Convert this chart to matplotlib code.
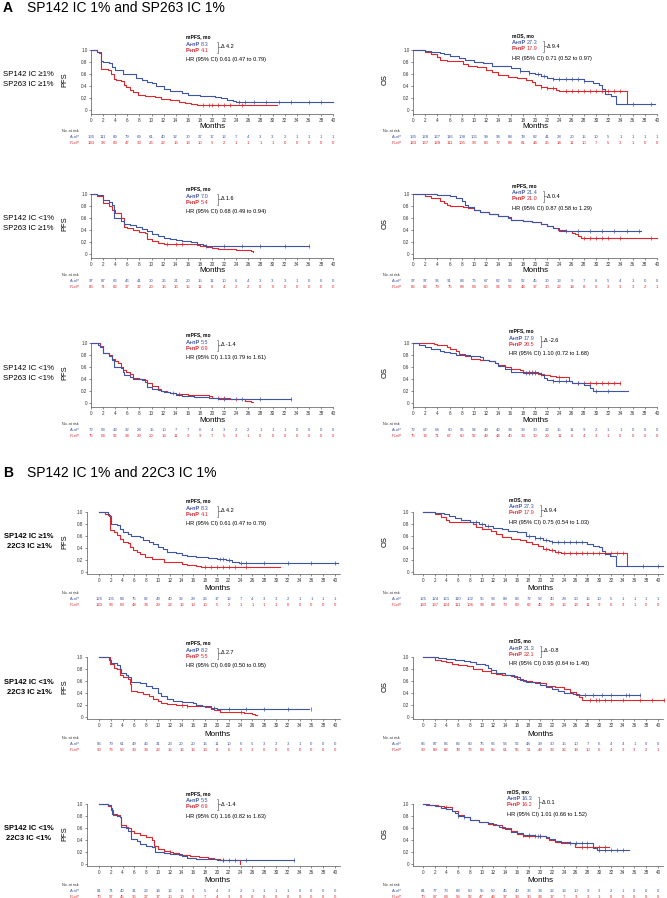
import numpy as np
import matplotlib.pyplot as plt
import matplotlib.transforms as mtransforms
from matplotlib.lines import Line2D

plt.rcParams['font.family'] = ['Liberation Sans', 'DejaVu Sans']

W, H = 667, 898
BLUE = '#3d55a5'
RED = '#e0252c'
months = np.arange(0, 41, 2)

# ---------------- data ----------------
# row 1 : SP142 >=1% / SP263 >=1%
r1_pfs_a_t = [0, 1.0, 1.65, 2.0, 3.0, 3.5, 4.0, 5.3, 7.4, 8.5, 9.2, 10.0, 10.8, 12.0, 13.0, 15.0, 16.0, 18.0, 19.0, 20.5, 21.5, 22.5, 23.5, 24.0, 40.0]
r1_pfs_a_s = [1.0, 0.97, 0.82, 0.80, 0.78, 0.72, 0.67, 0.60, 0.53, 0.50, 0.47, 0.45, 0.40, 0.35, 0.31, 0.28, 0.25, 0.24, 0.23, 0.21, 0.20, 0.17, 0.15, 0.14, 0.14]
r1_pfs_b_t = [0, 1.0, 1.3, 1.7, 2.8, 3.3, 3.8, 4.2, 5.0, 5.5, 5.8, 6.5, 7.0, 7.8, 9.0, 10.5, 11.5, 13.0, 14.5, 15.5, 16.5, 17.5, 18.0, 30.8]
r1_pfs_b_s = [1.0, 0.97, 0.95, 0.69, 0.66, 0.60, 0.52, 0.50, 0.48, 0.42, 0.38, 0.33, 0.30, 0.25, 0.23, 0.21, 0.18, 0.16, 0.14, 0.12, 0.10, 0.09, 0.08, 0.08]
r1_pfs_a_c = [24.5, 25.5, 27, 29, 31, 33, 36, 38]
r1_pfs_b_c = [18.5, 19.5, 20, 21, 22, 23, 25]
r1_os_a_t = [0, 2, 3, 4.5, 5, 6, 7.5, 8.5, 10, 11.5, 13, 15, 16, 17.5, 19, 20, 21, 22, 23, 28, 29.5, 30.5, 31, 31.5, 32.5, 33.2, 39.7]
r1_os_a_s = [1.0, 0.98, 0.96, 0.95, 0.93, 0.90, 0.87, 0.83, 0.80, 0.78, 0.74, 0.73, 0.70, 0.65, 0.62, 0.60, 0.57, 0.53, 0.51, 0.48, 0.45, 0.42, 0.35, 0.27, 0.23, 0.10, 0.10]
r1_os_b_t = [0, 2, 3, 4, 4.5, 5.5, 8.2, 9, 10.5, 12, 13, 14, 15.5, 17, 18.5, 19.5, 20, 21, 22, 23.5, 24, 35]
r1_os_b_s = [1.0, 0.97, 0.93, 0.88, 0.84, 0.82, 0.77, 0.74, 0.71, 0.67, 0.63, 0.58, 0.55, 0.53, 0.50, 0.47, 0.42, 0.38, 0.36, 0.33, 0.32, 0.10]
r1_os_a_c = [17.5, 19, 20.5, 21.5, 23, 24, 25, 26, 27, 28, 36, 39]
r1_os_b_c = [21, 22, 23, 25, 26, 27, 28, 29, 30, 31, 32, 33, 34]

# row 2 : SP142 <1% / SP263 >=1%
r2_pfs_a_t = [0, 1, 2, 3, 3.5, 3.8, 5, 5.5, 6.5, 7.5, 8.5, 9.2, 10, 11, 12, 13, 14, 15, 16.5, 17.5, 18.5, 19, 36]
r2_pfs_a_s = [1.0, 0.98, 0.90, 0.87, 0.82, 0.60, 0.55, 0.50, 0.48, 0.45, 0.42, 0.38, 0.33, 0.30, 0.27, 0.25, 0.23, 0.22, 0.20, 0.17, 0.15, 0.14, 0.14]
r2_pfs_b_t = [0, 1, 2, 3, 3.5, 4, 5, 5.5, 6, 7, 8, 9, 9.3, 10, 11, 12, 16.5, 17.5, 18, 19, 20, 21, 22, 24, 26.5, 26.8]
r2_pfs_b_s = [1.0, 0.97, 0.85, 0.80, 0.73, 0.68, 0.60, 0.45, 0.43, 0.40, 0.37, 0.35, 0.25, 0.22, 0.18, 0.17, 0.16, 0.15, 0.14, 0.12, 0.10, 0.09, 0.08, 0.06, 0.05, 0.03]
r2_pfs_a_c = [19, 22, 25, 28, 32, 36]
r2_pfs_b_c = [12.5, 14, 15]
r2_os_a_t = [0, 4, 6, 7, 8, 8.5, 9, 10, 11, 12.5, 14, 15.5, 16, 18, 19.5, 21, 22, 23, 24, 37.3]
r2_os_a_s = [1.0, 0.98, 0.97, 0.93, 0.88, 0.82, 0.79, 0.74, 0.70, 0.66, 0.63, 0.60, 0.57, 0.55, 0.53, 0.50, 0.47, 0.44, 0.38, 0.38]
r2_os_b_t = [0, 2, 3, 4.5, 5, 5.5, 6, 8.2, 9, 10, 11, 12.5, 14, 15.5, 16, 18, 19.5, 21, 22, 23, 23.8, 25, 26, 26.5, 27, 27.5, 40]
r2_os_b_s = [1.0, 0.97, 0.93, 0.88, 0.85, 0.82, 0.80, 0.78, 0.76, 0.73, 0.70, 0.66, 0.63, 0.61, 0.57, 0.55, 0.53, 0.50, 0.47, 0.44, 0.40, 0.38, 0.35, 0.33, 0.30, 0.27, 0.27]
r2_os_a_c = [25, 27, 29, 31, 33, 35, 37]
r2_os_b_c = [28, 29, 30, 31, 32, 34, 39]

# row 3 : SP142 <1% / SP263 <1%
r3_pfs_a_t = [0, 1.2, 1.5, 2, 3, 3.5, 3.8, 5, 5.3, 5.5, 6.5, 7, 8.5, 9, 9.3, 10, 11, 11.5, 12, 13, 14, 15, 17, 19.5, 21, 33]
r3_pfs_a_s = [1.0, 0.97, 0.93, 0.83, 0.78, 0.72, 0.60, 0.58, 0.52, 0.47, 0.44, 0.40, 0.38, 0.35, 0.26, 0.24, 0.22, 0.20, 0.18, 0.16, 0.13, 0.12, 0.10, 0.08, 0.07, 0.07]
r3_pfs_b_t = [0, 1.5, 2, 3, 3.5, 4, 4.5, 5, 5.3, 5.8, 6.5, 7, 8, 9, 9.3, 10, 11, 11.5, 12.5, 13, 14, 16, 19.5, 20, 23, 25, 25.5, 26.5, 26.8]
r3_pfs_b_s = [1.0, 0.95, 0.83, 0.80, 0.73, 0.70, 0.66, 0.60, 0.55, 0.52, 0.48, 0.42, 0.40, 0.38, 0.33, 0.28, 0.24, 0.20, 0.18, 0.16, 0.15, 0.14, 0.12, 0.08, 0.07, 0.06, 0.03, 0.02, 0.02]
r3_pfs_a_c = [22, 25, 28, 33]
r3_pfs_b_c = [13.5, 14.5, 21, 22, 24]
r3_os_a_t = [0, 1, 2, 3, 4.5, 5, 6, 7, 9.3, 11, 11.5, 12.5, 13.5, 14, 15, 16, 18, 21, 21.5, 22, 23, 26, 28, 29, 29.5, 35.2]
r3_os_a_s = [1.0, 0.97, 0.94, 0.90, 0.87, 0.85, 0.84, 0.80, 0.78, 0.76, 0.72, 0.70, 0.66, 0.62, 0.56, 0.52, 0.50, 0.47, 0.42, 0.38, 0.36, 0.33, 0.30, 0.25, 0.20, 0.20]
r3_os_b_t = [0, 3, 3.5, 4, 5.5, 6, 7, 7.5, 8.5, 9.5, 11, 12.5, 13.5, 14, 15, 16, 17.5, 18, 20.5, 21.5, 22.5, 23.5, 25.5, 26, 34]
r3_os_b_s = [1.0, 1.0, 0.98, 0.97, 0.94, 0.90, 0.87, 0.82, 0.78, 0.74, 0.72, 0.70, 0.66, 0.63, 0.60, 0.56, 0.55, 0.52, 0.49, 0.47, 0.45, 0.43, 0.36, 0.33, 0.33]
r3_os_a_c = [18.5, 19, 19.5, 20, 23, 24, 25, 27, 30, 32]
r3_os_b_c = [19, 19.5, 20, 21, 24, 27, 28, 29, 30, 31, 32, 33, 34]

# row 4 : SP142 >=1% / 22C3 >=1%
r4_pfs_a_t = [0, 1.5, 1.7, 2, 3, 3.5, 4, 5, 5.5, 7, 7.5, 8.5, 9.2, 10, 10.8, 11.5, 13, 14, 15, 16.5, 18.5, 20, 21.5, 22.5, 23.7, 40.5]
r4_pfs_a_s = [1.0, 0.97, 0.93, 0.80, 0.78, 0.72, 0.67, 0.64, 0.60, 0.58, 0.53, 0.50, 0.46, 0.42, 0.38, 0.34, 0.31, 0.29, 0.27, 0.25, 0.23, 0.21, 0.20, 0.17, 0.15, 0.15]
r4_pfs_b_t = [0, 1, 1.5, 1.8, 2.5, 3, 3.5, 4, 5, 5.3, 5.8, 6.5, 7, 7.8, 9, 10.5, 11, 12.5, 14, 15, 16.5, 17.3, 30.7]
r4_pfs_b_s = [1.0, 0.97, 0.95, 0.70, 0.67, 0.62, 0.55, 0.50, 0.48, 0.42, 0.36, 0.33, 0.30, 0.25, 0.22, 0.21, 0.17, 0.16, 0.14, 0.12, 0.10, 0.08, 0.08]
r4_pfs_a_c = [20.5, 21, 22, 24, 25, 28, 32, 36, 40]
r4_pfs_b_c = [18, 19, 20, 21, 22, 23, 25]
r4_os_a_t = [0, 2, 3.5, 4.5, 5.5, 6.5, 8, 9.5, 10.5, 12, 13.5, 14.5, 16, 17.5, 19, 20.5, 21.5, 22, 28, 29, 30, 30.5, 31, 31.8, 32.8, 40.8]
r4_os_a_s = [1.0, 0.98, 0.96, 0.93, 0.90, 0.86, 0.83, 0.80, 0.76, 0.74, 0.71, 0.68, 0.66, 0.60, 0.57, 0.54, 0.52, 0.50, 0.47, 0.44, 0.41, 0.35, 0.30, 0.27, 0.10, 0.10]
r4_os_b_t = [0, 2, 3, 4, 4.5, 6.5, 8.5, 9, 10, 11.5, 12.5, 13.5, 15, 16.5, 17.5, 18.5, 19.5, 20.5, 21.5, 22.5, 23.5, 34.8]
r4_os_b_s = [1.0, 0.96, 0.92, 0.87, 0.84, 0.83, 0.80, 0.75, 0.72, 0.68, 0.63, 0.58, 0.55, 0.53, 0.50, 0.46, 0.43, 0.38, 0.36, 0.34, 0.32, 0.10]
r4_os_a_c = [9, 10, 11, 18, 19, 20, 21, 22, 23, 24, 25, 26, 27, 37.5, 40]
r4_os_b_c = [21, 22, 23, 24, 25, 26, 27, 28, 29, 30, 31, 32, 33, 34]

# row 5 : SP142 <1% / 22C3 >=1%
r5_pfs_a_t = [0, 1.7, 2, 3, 3.5, 3.8, 4.5, 5, 5.5, 7, 8, 9, 10, 10.5, 11.5, 12.5, 14, 16, 16.5, 17.5, 19, 20, 35.6]
r5_pfs_a_s = [1.0, 0.95, 0.90, 0.87, 0.80, 0.73, 0.70, 0.66, 0.58, 0.56, 0.52, 0.48, 0.40, 0.35, 0.30, 0.27, 0.25, 0.24, 0.20, 0.18, 0.15, 0.14, 0.14]
r5_pfs_b_t = [0, 1.8, 2.5, 3, 3.5, 4, 5, 5.3, 5.5, 6.5, 7.5, 8.5, 9.2, 10, 10.5, 11.5, 13, 15, 16.5, 18, 19, 19.5, 20.5, 22, 24.5, 26, 26.5, 26.7]
r5_pfs_b_s = [1.0, 0.88, 0.82, 0.80, 0.70, 0.67, 0.63, 0.55, 0.44, 0.42, 0.38, 0.35, 0.30, 0.27, 0.24, 0.21, 0.20, 0.19, 0.18, 0.16, 0.14, 0.12, 0.09, 0.08, 0.06, 0.05, 0.03, 0.03]
r5_pfs_a_c = [19.5, 22, 25, 28, 32, 36]
r5_pfs_b_c = [14, 15, 24]
r5_os_a_t = [0, 2.5, 4, 5.5, 7, 8, 9, 10.5, 11, 11.5, 12.5, 14, 15.5, 16.5, 17.5, 19, 20, 21, 22, 23, 24, 25.5, 26.5, 37]
r5_os_a_s = [1.0, 0.98, 0.97, 0.95, 0.94, 0.92, 0.88, 0.86, 0.82, 0.78, 0.74, 0.70, 0.66, 0.62, 0.59, 0.57, 0.54, 0.50, 0.46, 0.43, 0.40, 0.38, 0.36, 0.36]
r5_os_b_t = [0, 2, 3, 4, 5, 6, 7.5, 8.5, 10, 11.5, 12.5, 13.5, 15, 16, 17, 18.5, 20, 21, 22.5, 24, 25, 26, 26.5, 27, 41]
r5_os_b_s = [1.0, 0.95, 0.93, 0.92, 0.88, 0.86, 0.85, 0.80, 0.76, 0.74, 0.72, 0.70, 0.68, 0.64, 0.60, 0.58, 0.56, 0.52, 0.50, 0.46, 0.41, 0.37, 0.33, 0.29, 0.29]
r5_os_a_c = [27.5, 29, 30.5, 32, 34.5, 35, 37]
r5_os_b_c = [28.5, 29.5, 30, 31, 32, 34, 37, 39, 41]

# row 6 : SP142 <1% / 22C3 <1%
r6_pfs_a_t = [0, 1.5, 2, 2.2, 3, 3.5, 3.8, 4.5, 5, 5.5, 6.5, 7, 8, 9, 9.5, 11, 12, 13, 14, 15, 16.5, 20, 33]
r6_pfs_a_s = [1.0, 0.98, 0.93, 0.83, 0.80, 0.78, 0.62, 0.60, 0.55, 0.42, 0.38, 0.33, 0.30, 0.28, 0.20, 0.19, 0.17, 0.16, 0.14, 0.10, 0.08, 0.07, 0.07]
r6_pfs_b_t = [0, 1.5, 2, 2.3, 3.5, 3.8, 4.5, 5, 5.5, 6, 7, 8, 9, 9.3, 10, 11, 12, 12.5, 13.5, 15.5, 17, 18.5, 19.5, 20.5, 23.9]
r6_pfs_b_s = [1.0, 0.97, 0.90, 0.82, 0.79, 0.65, 0.62, 0.60, 0.55, 0.52, 0.48, 0.45, 0.40, 0.30, 0.25, 0.22, 0.20, 0.18, 0.15, 0.13, 0.12, 0.10, 0.08, 0.07, 0.0]
r6_pfs_a_c = [21, 23, 25, 33]
r6_pfs_b_c = [12, 21, 22]
r6_os_a_t = [0, 0.5, 2, 3, 4, 5, 5.5, 6, 7, 8, 9.5, 11, 12, 13, 14, 15, 16, 17, 19, 21, 21.5, 22.5, 23.5, 25, 29, 29.7, 35]
r6_os_a_s = [1.0, 0.98, 0.97, 0.94, 0.92, 0.88, 0.85, 0.80, 0.78, 0.73, 0.70, 0.68, 0.65, 0.62, 0.58, 0.54, 0.52, 0.48, 0.47, 0.45, 0.42, 0.38, 0.36, 0.35, 0.27, 0.23, 0.23]
r6_os_b_t = [0, 1, 2.5, 3.5, 5, 6, 7, 8, 9.5, 11, 12.5, 13.5, 15, 16, 17, 21, 21.5, 22.5, 23.5, 25.8, 31.6]
r6_os_b_s = [1.0, 0.98, 0.96, 0.95, 0.88, 0.82, 0.78, 0.73, 0.70, 0.67, 0.65, 0.60, 0.55, 0.50, 0.47, 0.43, 0.40, 0.37, 0.35, 0.29, 0.29]
r6_os_a_c = [6, 7, 17, 18, 19.5, 20, 25, 26, 27, 28, 30, 31, 32, 33, 34]
r6_os_b_c = [4, 18, 19, 20, 27, 28, 30, 31]

# numbers at risk (A+nP, P+nP) at months 0,2,...,40
r1_pfs_risk_a = [135, 111, 89, 79, 69, 61, 40, 32, 30, 27, 17, 12, 7, 4, 3, 3, 2, 1, 1, 1, 1]
r1_pfs_risk_b = [143, 98, 69, 47, 33, 26, 22, 16, 13, 10, 5, 2, 1, 1, 1, 1, 0, 0, 0, 0, 0]
r1_os_risk_a = [135, 128, 127, 116, 108, 101, 99, 94, 88, 78, 62, 41, 28, 20, 15, 10, 5, 1, 1, 1, 1]
r1_os_risk_b = [143, 137, 128, 111, 105, 93, 83, 72, 68, 61, 44, 25, 14, 11, 10, 7, 5, 3, 1, 0, 0]
r2_pfs_risk_a = [97, 87, 66, 46, 41, 30, 25, 21, 20, 15, 11, 10, 6, 4, 3, 3, 3, 1, 0, 0, 0]
r2_pfs_risk_b = [86, 71, 62, 37, 32, 20, 16, 16, 15, 11, 6, 4, 2, 2, 0, 0, 0, 0, 0, 0, 0]
r2_os_risk_a = [97, 97, 96, 91, 84, 76, 67, 62, 58, 52, 45, 30, 13, 9, 7, 6, 5, 4, 1, 0, 0]
r2_os_risk_b = [86, 82, 79, 75, 68, 64, 60, 54, 52, 48, 37, 30, 22, 18, 8, 6, 3, 3, 3, 2, 1]
r3_pfs_risk_a = [72, 63, 43, 32, 24, 15, 10, 7, 7, 6, 4, 3, 2, 2, 1, 1, 1, 0, 0, 0, 0]
r3_pfs_risk_b = [75, 64, 52, 38, 29, 20, 13, 11, 9, 9, 7, 5, 3, 1, 0, 0, 0, 0, 0, 0, 0]
r3_os_risk_a = [72, 67, 64, 60, 56, 54, 49, 42, 38, 33, 30, 22, 15, 11, 9, 2, 1, 1, 0, 0, 0]
r3_os_risk_b = [75, 74, 71, 67, 60, 52, 49, 44, 40, 33, 30, 20, 11, 6, 4, 3, 1, 0, 0, 0, 0]
r4_pfs_risk_a = [125, 105, 84, 75, 62, 49, 40, 32, 29, 26, 17, 12, 7, 4, 3, 3, 2, 1, 1, 1, 1]
r4_pfs_risk_b = [143, 98, 69, 48, 34, 29, 22, 16, 13, 10, 5, 2, 1, 1, 1, 1, 0, 0, 0, 0, 0]
r4_os_risk_a = [125, 124, 121, 110, 102, 95, 93, 88, 83, 72, 59, 40, 28, 20, 15, 10, 5, 1, 1, 1, 1]
r4_os_risk_b = [143, 137, 124, 111, 106, 94, 84, 73, 69, 62, 45, 28, 16, 13, 11, 9, 6, 3, 1, 0, 0]
r5_pfs_risk_a = [86, 79, 61, 49, 43, 31, 23, 20, 20, 16, 11, 10, 6, 5, 3, 3, 3, 1, 0, 0, 0]
r5_pfs_risk_b = [90, 76, 59, 39, 34, 23, 16, 16, 16, 13, 8, 6, 5, 3, 0, 0, 0, 0, 0, 0, 0]
r5_os_risk_a = [86, 87, 86, 83, 80, 75, 66, 58, 52, 48, 39, 30, 15, 10, 7, 6, 4, 4, 1, 0, 0]
r5_os_risk_b = [90, 89, 82, 78, 76, 69, 65, 61, 56, 51, 43, 33, 26, 19, 10, 6, 4, 3, 3, 2, 1]
r6_pfs_risk_a = [81, 71, 40, 31, 22, 14, 12, 8, 7, 5, 4, 3, 2, 1, 1, 1, 1, 0, 0, 0, 0]
r6_pfs_risk_b = [70, 57, 45, 36, 27, 17, 10, 10, 8, 7, 4, 3, 0, 0, 0, 0, 0, 0, 0, 0, 0]
r6_os_risk_a = [81, 77, 73, 68, 60, 55, 50, 45, 40, 36, 34, 22, 13, 10, 9, 3, 2, 1, 0, 0, 0]
r6_os_risk_b = [70, 67, 64, 59, 52, 47, 44, 37, 33, 30, 24, 17, 7, 3, 2, 1, 0, 0, 0, 0, 0]

# medians / HR text per panel: (header, A value, P value, delta, HR)
r1_pfs_note = ('mPFS, mo', '8.3', '4.1', '4.2', '0.61 (0.47 to 0.79)')
r1_os_note = ('mOS, mo', '27.3', '17.9', '9.4', '0.71 (0.52 to 0.97)')
r2_pfs_note = ('mPFS, mo', '7.0', '5.4', '1.6', '0.68 (0.49 to 0.94)')
r2_os_note = ('mPFS, mo', '21.4', '21.0', '0.4', '0.87 (0.58 to 1.29)')
r3_pfs_note = ('mPFS, mo', '5.5', '6.9', '-1.4', '1.13 (0.79 to 1.61)')
r3_os_note = ('mPFS, mo', '17.9', '20.5', '-2.6', '1.10 (0.72 to 1.68)')
r4_pfs_note = ('mPFS, mo', '8.3', '4.1', '4.2', '0.61 (0.47 to 0.79)')
r4_os_note = ('mOS, mo', '27.3', '17.9', '9.4', '0.75 (0.54 to 1.03)')
r5_pfs_note = ('mPFS, mo', '8.2', '5.5', '2.7', '0.69 (0.50 to 0.95)')
r5_os_note = ('mOS, mo', '21.3', '22.1', '-0.8', '0.95 (0.64 to 1.40)')
r6_pfs_note = ('mPFS, mo', '5.5', '6.9', '-1.4', '1.16 (0.82 to 1.63)')
r6_os_note = ('mOS, mo', '16.3', '16.2', '0.1', '1.01 (0.66 to 1.52)')

row_labels = [('SP142 IC \u22651%', 'SP263 IC \u22651%'),
              ('SP142 IC <1%', 'SP263 IC \u22651%'),
              ('SP142 IC <1%', 'SP263 IC <1%'),
              ('SP142 IC \u22651%', '22C3 IC \u22651%'),
              ('SP142 IC <1%', '22C3 IC \u22651%'),
              ('SP142 IC <1%', '22C3 IC <1%')]

# ---------------- layout (pixels) ----------------
row_top = [50, 194, 343, 512, 657, 804]
note_pos = [((186, 44), (512, 43)), ((186, 196), (512, 193)), ((186, 342), (509, 338)),
            ((186, 508), (509, 507)), ((186, 650), (509, 648)), ((186, 801), (507, 799))]

fig = plt.figure(figsize=(W / 100, H / 100), dpi=100)


def fx(x):
    return x / W


def fy(y):
    return 1 - y / H


def step_at(t, s, c):
    idx = np.searchsorted(np.asarray(t), np.asarray(c), side='right') - 1
    return np.asarray(s)[idx]


def panel(row, col, curves, risk_a, risk_b, note, ylab):
    secB = row >= 3
    if col == 0:
        yax, xmin, ppm = (87, -2.03, 5.9) if secB else (91, 0.0, 6.05)
    else:
        yax, xmin, ppm = (413, -1.7, 5.875) if secB else (413, 0.0, 6.1)
    xmax = 40.8 if secB else 40.0
    ymin = -0.04 if secB else -0.07
    top = row_top[row]
    y0 = top + 60
    bottom = top + 60 * (1 - ymin)
    right = yax + (xmax - xmin) * ppm
    ax = fig.add_axes([fx(yax), fy(bottom), (right - yax) / W, (bottom - top) / H])
    ax.set_xlim(xmin, xmax)
    ax.set_ylim(ymin, 1.0)
    for t, s, c, col_ in curves:
        ax.step(t, s, where='post', color=col_, lw=0.8, clip_on=False)
        ax.plot(c, step_at(t, s, c), '|', color=col_, ms=2.2, mew=0.5, clip_on=False)
    for sp in ['top', 'right']:
        ax.spines[sp].set_visible(False)
    for sp in ['left', 'bottom']:
        ax.spines[sp].set_linewidth(0.5)
        ax.spines[sp].set_color('#555555')
    ax.set_xticks(months)
    ax.set_yticks([0, 0.2, 0.4, 0.6, 0.8, 1.0])
    ax.set_yticklabels(['0', '0.2', '0.4', '0.6', '0.8', '1.0'])
    ax.tick_params(labelsize=3.3, length=1.6, width=0.4, pad=1.2 if secB else 0.8,
                   colors='#333333')
    ax.patch.set_alpha(0)

    # y label
    lx = (65 if col == 0 else 385)
    fig.text(fx(lx), fy((top + y0) / 2), ylab, rotation=90, ha='center', va='center',
             fontsize=5.4)
    # x label
    fig.text(fx(yax + (20 - xmin) * ppm), fy(y0 + 17), 'Months', ha='center', va='center',
             fontsize=5.8)
    # number at risk
    tr = mtransforms.blended_transform_factory(ax.transData, fig.transFigure)
    nx = 62 if col == 0 else 383
    lab_r = 80 if col == 0 else 402
    fig.text(fx(nx), fy(y0 + 21), 'No. at risk', fontsize=2.7, va='center', color='#333333')
    fig.text(fx(lab_r), fy(y0 + 27), 'A+nP', fontsize=2.9, ha='right', va='center', color=BLUE)
    fig.text(fx(lab_r), fy(y0 + 33), 'P+nP', fontsize=2.9, ha='right', va='center', color=RED)
    for m, a, b in zip(months, risk_a, risk_b):
        ax.text(m, fy(y0 + 27), str(a), transform=tr, fontsize=3.1, ha='center', va='center',
                color=BLUE)
        ax.text(m, fy(y0 + 33), str(b), transform=tr, fontsize=3.1, ha='center', va='center',
                color=RED)

    # median / HR box
    px, py = note_pos[row][col]
    head, va_, vb_, d, hr = note
    fig.text(fx(px), fy(py - 7), head, fontsize=3.6, weight='bold', va='center')
    fig.text(fx(px), fy(py), 'A+nP', fontsize=4.0, weight='bold', va='center', color=BLUE)
    fig.text(fx(px + 15), fy(py), va_, fontsize=4.0, va='center', color=BLUE)
    fig.text(fx(px), fy(py + 6), 'P+nP', fontsize=4.0, weight='bold', va='center', color=RED)
    fig.text(fx(px + 15), fy(py + 6), vb_, fontsize=4.0, va='center', color=RED)
    bx = px + 32
    kw = dict(transform=fig.transFigure, color='#444444', lw=0.4)
    fig.add_artist(Line2D([fx(bx - 1.5), fx(bx), fx(bx), fx(bx - 1.5)],
                          [fy(py - 2.5), fy(py - 2.5), fy(py + 8.5), fy(py + 8.5)], **kw))
    fig.add_artist(Line2D([fx(bx), fx(bx + 2)], [fy(py + 3), fy(py + 3)], **kw))
    fig.text(fx(bx + 3), fy(py + 3), '\u0394 ' + d, fontsize=4.0, va='center')
    fig.text(fx(px), fy(py + 15.5), 'HR (95% CI) ' + hr, fontsize=4.1, va='center')
    return ax


rows = [
    (r1_pfs_a_t, r1_pfs_a_s, r1_pfs_a_c, r1_pfs_b_t, r1_pfs_b_s, r1_pfs_b_c, r1_pfs_risk_a, r1_pfs_risk_b, r1_pfs_note,
     r1_os_a_t, r1_os_a_s, r1_os_a_c, r1_os_b_t, r1_os_b_s, r1_os_b_c, r1_os_risk_a, r1_os_risk_b, r1_os_note),
    (r2_pfs_a_t, r2_pfs_a_s, r2_pfs_a_c, r2_pfs_b_t, r2_pfs_b_s, r2_pfs_b_c, r2_pfs_risk_a, r2_pfs_risk_b, r2_pfs_note,
     r2_os_a_t, r2_os_a_s, r2_os_a_c, r2_os_b_t, r2_os_b_s, r2_os_b_c, r2_os_risk_a, r2_os_risk_b, r2_os_note),
    (r3_pfs_a_t, r3_pfs_a_s, r3_pfs_a_c, r3_pfs_b_t, r3_pfs_b_s, r3_pfs_b_c, r3_pfs_risk_a, r3_pfs_risk_b, r3_pfs_note,
     r3_os_a_t, r3_os_a_s, r3_os_a_c, r3_os_b_t, r3_os_b_s, r3_os_b_c, r3_os_risk_a, r3_os_risk_b, r3_os_note),
    (r4_pfs_a_t, r4_pfs_a_s, r4_pfs_a_c, r4_pfs_b_t, r4_pfs_b_s, r4_pfs_b_c, r4_pfs_risk_a, r4_pfs_risk_b, r4_pfs_note,
     r4_os_a_t, r4_os_a_s, r4_os_a_c, r4_os_b_t, r4_os_b_s, r4_os_b_c, r4_os_risk_a, r4_os_risk_b, r4_os_note),
    (r5_pfs_a_t, r5_pfs_a_s, r5_pfs_a_c, r5_pfs_b_t, r5_pfs_b_s, r5_pfs_b_c, r5_pfs_risk_a, r5_pfs_risk_b, r5_pfs_note,
     r5_os_a_t, r5_os_a_s, r5_os_a_c, r5_os_b_t, r5_os_b_s, r5_os_b_c, r5_os_risk_a, r5_os_risk_b, r5_os_note),
    (r6_pfs_a_t, r6_pfs_a_s, r6_pfs_a_c, r6_pfs_b_t, r6_pfs_b_s, r6_pfs_b_c, r6_pfs_risk_a, r6_pfs_risk_b, r6_pfs_note,
     r6_os_a_t, r6_os_a_s, r6_os_a_c, r6_os_b_t, r6_os_b_s, r6_os_b_c, r6_os_risk_a, r6_os_risk_b, r6_os_note),
]

for i, r in enumerate(rows):
    pa_t, pa_s, pa_c, pb_t, pb_s, pb_c, prk_a, prk_b, pnote = r[:9]
    oa_t, oa_s, oa_c, ob_t, ob_s, ob_c, ork_a, ork_b, onote = r[9:]
    panel(i, 0, [(pb_t, pb_s, pb_c, RED), (pa_t, pa_s, pa_c, BLUE)], prk_a, prk_b, pnote, 'PFS')
    panel(i, 1, [(ob_t, ob_s, ob_c, RED), (oa_t, oa_s, oa_c, BLUE)], ork_a, ork_b, onote, 'OS')

    l1, l2 = row_labels[i]
    ymid = row_top[i] + 30
    if i < 3:
        fig.text(fx(3), fy(ymid - 5), l1, fontsize=5.6, va='center')
        fig.text(fx(3), fy(ymid + 5), l2, fontsize=5.6, va='center')
    else:
        fig.text(fx(29), fy(ymid - 5), l1, fontsize=5.4, va='center', ha='center', weight='bold')
        fig.text(fx(29), fy(ymid + 5), l2, fontsize=5.4, va='center', ha='center', weight='bold')

# section titles
fig.text(fx(3), fy(8), 'A', fontsize=10, weight='bold', va='center')
fig.text(fx(27), fy(8), 'SP142 IC 1% and SP263 IC 1%', fontsize=10, va='center')
fig.text(fx(3), fy(473), 'B', fontsize=10, weight='bold', va='center')
fig.text(fx(27), fy(473), 'SP142 IC 1% and 22C3 IC 1%', fontsize=10, va='center')

fig.savefig('out.png', dpi=100)
